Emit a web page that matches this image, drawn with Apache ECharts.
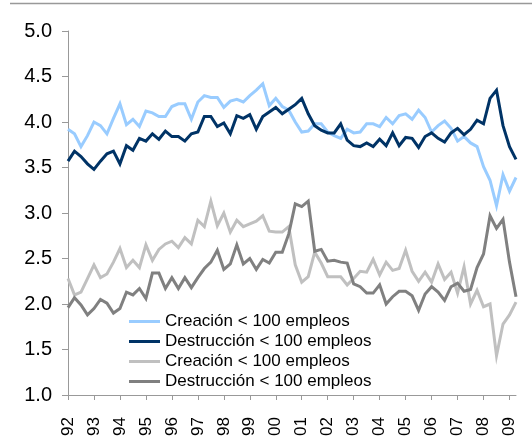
<!DOCTYPE html>
<html>
<head>
<meta charset="utf-8">
<script src="https://cdn.jsdelivr.net/npm/echarts@6/dist/echarts.min.js"></script>
<style>
html,body{margin:0;padding:0;background:#fff;}
#chart{width:532px;height:444px;}
</style>
</head>
<body>
<div id="chart"></div>
<script>
var years = ['92','93','94','95','96','97','98','99','00','01','02','03','04','05','06','07','08','09'];
var quartersPerYear = 4;
var nPoints = 70;

var legendLabels = ['Creación < 100 empleos','Destrucción < 100 empleos','Creación < 100 empleos','Destrucción < 100 empleos'];

var creacionA = [3.92,3.87,3.73,3.85,4.00,3.96,3.87,4.04,4.20,3.97,4.03,3.95,4.12,4.10,4.06,4.06,4.17,4.20,4.20,4.03,
                 4.22,4.29,4.27,4.27,4.16,4.23,4.25,4.22,4.29,4.35,4.42,4.18,4.26,4.17,4.13,4.00,3.89,3.90,3.98,3.98,
                 3.89,3.85,3.82,3.92,3.88,3.89,3.98,3.98,3.95,4.05,3.98,4.07,4.09,4.03,4.13,4.05,3.89,3.96,4.01,3.93,
                 3.79,3.84,3.77,3.73,3.51,3.36,3.08,3.42,3.24,3.39];
var destruccionA = [3.57,3.68,3.62,3.54,3.48,3.57,3.65,3.68,3.54,3.74,3.69,3.82,3.79,3.87,3.81,3.90,3.84,3.84,3.79,3.87,
                    3.89,4.06,4.06,3.95,3.99,3.87,4.07,4.04,4.08,3.92,4.06,4.11,4.16,4.09,4.14,4.19,4.26,4.09,3.96,3.91,
                    3.88,3.88,3.98,3.80,3.74,3.73,3.77,3.73,3.81,3.74,3.88,3.74,3.83,3.82,3.72,3.84,3.88,3.82,3.78,3.88,
                    3.93,3.86,3.92,4.02,3.98,4.26,4.35,3.96,3.73,3.59];
var creacionB = [2.28,2.10,2.13,2.28,2.43,2.29,2.33,2.46,2.61,2.40,2.48,2.40,2.65,2.48,2.60,2.66,2.69,2.62,2.73,2.66,
                 2.92,2.85,3.13,2.86,3.00,2.79,2.92,2.85,2.88,2.91,2.97,2.80,2.79,2.79,2.85,2.43,2.24,2.30,2.57,2.45,
                 2.30,2.30,2.30,2.21,2.28,2.36,2.35,2.49,2.32,2.46,2.37,2.39,2.59,2.36,2.25,2.35,2.24,2.44,2.27,2.35,
                 2.12,2.41,2.00,2.15,1.97,2.00,1.43,1.78,1.88,2.02];
var destruccionB = [1.96,2.07,1.99,1.88,1.95,2.05,2.01,1.90,1.95,2.13,2.10,2.17,2.06,2.34,2.34,2.17,2.29,2.17,2.29,2.18,
                    2.29,2.39,2.46,2.59,2.38,2.44,2.65,2.44,2.50,2.38,2.49,2.45,2.57,2.57,2.77,3.10,3.07,3.13,2.58,2.60,
                    2.47,2.48,2.46,2.45,2.22,2.19,2.12,2.12,2.21,2.00,2.08,2.14,2.14,2.09,1.93,2.11,2.19,2.13,2.04,2.19,
                    2.23,2.14,2.16,2.40,2.55,2.97,2.83,2.93,2.46,2.08];

var categories = [];
for (var y = 0; y < years.length; y++) {
  for (var q = 1; q <= quartersPerYear; q++) {
    if (categories.length < nPoints) categories.push(years[y] + ' T' + q);
  }
}

var seriesIds = ['s1','s2','s3','s4'];
var colors = ['#99CCFF','#003366','#C0C0C0','#808080'];
var dataSets = [creacionA, destruccionA, creacionB, destruccionB];

var FONT = '"Liberation Sans", Arial, sans-serif';

var chart = echarts.init(document.getElementById('chart'), null, {renderer:'canvas'});
var series = seriesIds.map(function(id, k){
  return {
    name: id, type: 'line', data: dataSets[k],
    showSymbol: false, symbol: 'none', smooth: false,
    lineStyle: {color: colors[k], width: 3, join: 'miter'},
    itemStyle: {color: colors[k]},
    animation: false
  };
});

chart.setOption({
  animation: false,
  backgroundColor: '#ffffff',
  grid: {left: 68, right: 16, top: 31, bottom: 49, containLabel: false},
  xAxis: {
    type: 'category', data: categories, boundaryGap: false,
    axisLine: {show: true, lineStyle: {color: '#999999', width: 1}},
    axisTick: {show: true, interval: 3, length: 5, inside: false, lineStyle: {color: '#999999'}},
    axisLabel: {
      interval: 3, rotate: 90, margin: 22,
      fontFamily: FONT, fontSize: 17, color: '#000',
      formatter: function(v){ return v.slice(0,2); }
    },
    splitLine: {show: false}
  },
  yAxis: {
    type: 'value', min: 1, max: 5, interval: 0.5,
    axisLine: {show: true, lineStyle: {color: '#999999', width: 1}},
    axisTick: {show: true, length: 6, lineStyle: {color: '#999999'}},
    axisLabel: {
      fontFamily: FONT, fontSize: 20, color: '#000', margin: 16,
      formatter: function(v){ return v.toFixed(1); }
    },
    splitLine: {show: false}
  },
  legend: {
    orient: 'vertical', left: 124, top: 308,
    itemWidth: 31, itemHeight: 3, itemGap: 3,
    icon: 'rect',
    data: seriesIds,
    formatter: function(name){ return legendLabels[seriesIds.indexOf(name)]; },
    textStyle: {fontFamily: FONT, fontSize: 17, color: '#000'},
    selectedMode: false
  },
  graphic: [{
    type: 'line', silent: true,
    shape: {x1: 10, y1: 3.5, x2: 532, y2: 3.5},
    style: {stroke: '#999999', lineWidth: 1.5}
  }],
  series: series
});
</script>
</body>
</html>
